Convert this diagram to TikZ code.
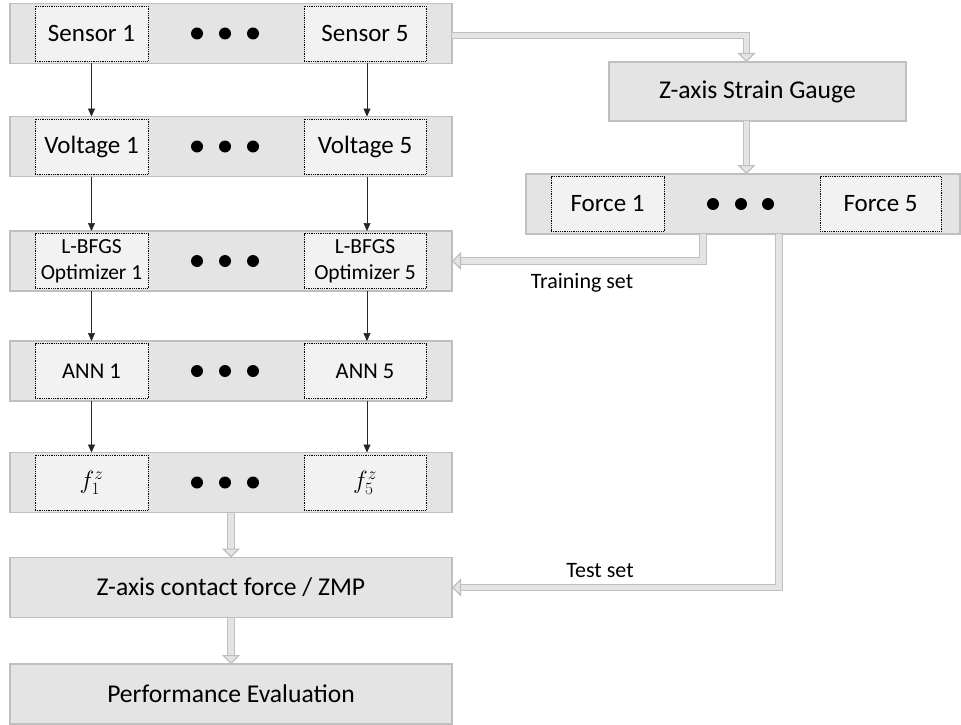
\documentclass[tikz,border=0pt]{standalone}
\usepackage{fontspec}
\setmainfont{Carlito}
\usetikzlibrary{arrows.meta,calc}
\definecolor{barfill}{HTML}{E4E4E4}
\definecolor{cellfill}{HTML}{F2F2F2}
\definecolor{barline}{HTML}{BFBFBF}

\begin{document}
\begin{tikzpicture}[x=1pt,y=-1pt,
  bar/.style={draw=barline, fill=barfill, line width=1.5pt, minimum height=60pt, inner sep=0pt, outer sep=0pt},
  cell/.style={draw=black, densely dotted, fill=cellfill, line width=0.8pt, minimum height=55pt, inner sep=0pt, align=center, font=\fontsize{25}{28}\selectfont},
  optcell/.style={cell, font=\fontsize{21.5}{26}\selectfont},
  anncell/.style={cell, font=\fontsize{22.5}{26}\selectfont},
  mathcell/.style={cell, font=\fontsize{24}{28}\selectfont},
  bigbox/.style={bar, font=\fontsize{25.6}{30}\selectfont},
  thinarrow/.style={-{Triangle[length=8pt,width=7pt]}, line width=0.6pt, draw=black!85},
  hollow/.style={draw=barline, line width=1.2pt, double=barfill, double distance=5.5pt,
    -{Triangle[length=9pt,width=18pt,color=barline,fill=barfill,line width=1.2pt]}},
  setlabel/.style={font=\fontsize{22}{26}\selectfont, inner sep=0pt},
  dot/.style={fill=black}]

\useasboundingbox (0,0) rectangle (961,725);

% left column of bars
\node[bar, minimum width=442pt] (r1) at (231,33.5) {};
\node[bar, minimum width=442pt] (r2) at (231,146.5) {};
\node[bar, minimum width=442pt] (r3) at (231,261) {};
\node[bar, minimum width=442pt] (r4) at (231,371) {};
\node[bar, minimum width=442pt] (r5) at (231,482.5) {};
\node[bigbox, minimum width=442pt] (zmp) at (231,587.5) {Z-axis contact force / ZMP};
\node[bigbox, minimum width=442pt] (perf) at (231,694) {Performance Evaluation};

% cells inside the bars
\node[cell, minimum width=113pt] (s1) at (91.5,33.5) {Sensor 1};
\node[cell, minimum width=122pt] (s5) at (365,33.5) {Sensor 5};
\node[cell, minimum width=113pt] (v1) at (91.5,146.5) {Voltage 1};
\node[cell, minimum width=122pt] (v5) at (365,146.5) {Voltage 5};
\node[optcell, minimum width=113pt] (o1) at (91.5,261) {L-BFGS\\Optimizer 1};
\node[optcell, minimum width=122pt] (o5) at (365,261) {L-BFGS\\Optimizer 5};
\node[anncell, minimum width=113pt] (a1) at (91.5,371) {ANN 1};
\node[anncell, minimum width=122pt] (a5) at (365,371) {ANN 5};
\node[mathcell, minimum width=113pt] (f1) at (91.5,482.5) {$f^{z}_{1}$};
\node[mathcell, minimum width=122pt] (f5) at (365,482.5) {$f^{z}_{5}$};

% ellipsis dots
\foreach \yy in {33.5,146.5,261,371,482.5}{
  \foreach \xx in {197,225,253}{
    \fill[dot] (\xx,\yy) circle (6pt);
  }
}

% right column
\node[bigbox, minimum width=297pt, minimum height=59pt] (sg) at (757.5,91.5) {Z-axis Strain Gauge};
\node[bar, minimum width=434pt] (fr) at (743,204) {};
\node[cell, minimum width=113pt] (fo1) at (607.5,204) {Force 1};
\node[cell, minimum width=121pt] (fo5) at (880.5,204) {Force 5};
\foreach \xx in {713,741,768}{
  \fill[dot] (\xx,204) circle (6pt);
}

% per-channel connectors
\draw[thinarrow] (r1.south -| s1) -- (r2.north -| s1);
\draw[thinarrow] (r1.south -| 367,0) -- (r2.north -| 367,0);
\draw[thinarrow] (r2.south -| s1) -- (r3.north -| s1);
\draw[thinarrow] (r2.south -| 367,0) -- (r3.north -| 367,0);
\draw[thinarrow] (r3.south -| s1) -- (r4.north -| s1);
\draw[thinarrow] (r3.south -| 367,0) -- (r4.north -| 367,0);
\draw[thinarrow] (r4.south -| s1) -- (r5.north -| s1);
\draw[thinarrow] (r4.south -| 367,0) -- (r5.north -| 367,0);

% block connectors
\draw[hollow] ([yshift=-2pt]r1.east) -| ([xshift=-11pt]sg.north);
\draw[hollow] ([xshift=-11pt]sg.south) -- ([xshift=-11pt]sg.south |- fr.north);
\draw[hollow] ([xshift=-40pt]fr.south) |- (r3.east);
\draw[hollow] ([xshift=36pt]fr.south) |- (zmp.east);
\draw[hollow] (r5.south) -- (zmp.north);
\draw[hollow] (zmp.south) -- (perf.north);

% connector labels
\node[setlabel] (trl) at (582,283) {Training set};
\node[setlabel] (tel) at (600,571) {Test set};
\end{tikzpicture}
\end{document}
